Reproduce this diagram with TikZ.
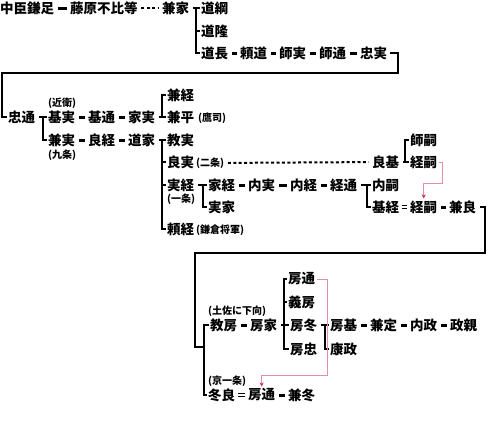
\documentclass[tikz,border=0pt]{standalone}
\usepackage{fontspec}
\usepackage{tikz}
\usetikzlibrary{arrows.meta}
\newfontfamily\jpfont{Noto Sans CJK JP}
\definecolor{kpink}{RGB}{228,140,175}
\definecolor{kpinkdark}{RGB}{200,40,100}

\begin{document}
\begin{tikzpicture}[x=1pt,y=-1pt,
          person/.style={inner sep=0pt,anchor=west,font=\jpfont\bfseries\fontsize{13.5}{15}\selectfont},
          remark/.style={inner sep=0pt,anchor=west,font=\jpfont\bfseries\fontsize{10}{12}\selectfont},
          lineage/.style={line width=3pt,shorten <=3.5pt,shorten >=3.5pt},
          branch/.style={line width=2.7pt,shorten <=1pt,shorten >=1pt},
          stub/.style={line width=2.7pt,shorten <=3.5pt},
          wrapline/.style={line width=2.3pt,shorten >=1pt},
          adopt/.style={double,double distance=2pt,line width=1pt,shorten <=3pt,shorten >=3pt},
          gap/.style={line width=2pt,dash pattern=on 3pt off 2.4pt,shorten <=3.5pt,shorten >=3.5pt},
          pinkarrow/.style={draw=kpink,line width=0.7pt,shorten <=1.5pt,shorten >=2pt,
                            -{Stealth[length=4pt,width=4pt,color=kpinkdark]}}]
        \useasboundingbox (0,0) rectangle (490,431);
        % --- 鎌足から忠実まで
        \node[person](kamatari)   at (0,8)   {中臣鎌足};
        \node[person](fuhito)     at (70,8)  {藤原不比等};
        \node[person](kaneie)     at (162,8) {兼家};
        \node[person](michitsuna) at (201,8) {道綱};
        \node[person](michitaka)  at (201,31){道隆};
        \node[person](michinaga)  at (201,53){道長};
        \node[person](yorimichi)  at (240,53){頼道};
        \node[person](morozane)   at (279,53){師実};
        \node[person](moromichi)  at (319,53){師通};
        \node[person](tadazane)   at (360,53){忠実};
        \coordinate (jKaneie) at (196,8);
        \draw[lineage](kamatari)--(fuhito);
        \draw[gap](fuhito)--(kaneie);
        \draw[stub](kaneie)--(jKaneie);
        \draw[branch](michitsuna)-|(jKaneie)|-(michinaga);
        \draw[branch](jKaneie|-michitaka)--(michitaka);
        \draw[lineage](michinaga)--(yorimichi);
        \draw[lineage](yorimichi)--(morozane);
        \draw[lineage](morozane)--(moromichi);
        \draw[lineage](moromichi)--(tadazane);
        % --- 忠通の子ら
        \node[person](tadamichi)  at (8,117)  {忠通};
        \node[person](motozane)   at (48,117) {基実};
        \node[remark](konoe)      at (48,103) {(近衛)};
        \node[person](mototsugu)  at (88,117) {基通};
        \node[person](iezane)     at (128,117){家実};
        \node[person](kanetsune)  at (167,95) {兼経};
        \node[person](kanehira)   at (167,117){兼平};
        \node[remark](takatsukasa)at (198,118){(鷹司)};
        \node[person](kanezane)   at (48,140) {兼実};
        \node[remark](kujo)       at (48,155) {(九条)};
        \node[person](yoshitsune) at (88,140) {良経};
        \node[person](michiie)    at (128,140){道家};
        \coordinate (turn1) at (398,73);
        \coordinate (turn2) at (2,73);
        \coordinate (jTadamichi) at (43,117);
        \coordinate (jIezane) at (162,117);
        \draw[wrapline,shorten <=3pt](tadazane)-|(turn1)--(turn2)|-(tadamichi);
        \draw[stub](tadamichi)--(jTadamichi);
        \draw[branch](motozane)-|(jTadamichi)|-(kanezane);
        \draw[lineage](motozane)--(mototsugu);
        \draw[lineage](mototsugu)--(iezane);
        \draw[stub](iezane)--(jIezane);
        \draw[branch](kanetsune)-|(jIezane)|-(kanehira);
        \draw[lineage](kanezane)--(yoshitsune);
        \draw[lineage](yoshitsune)--(michiie);
        % --- 道家の子ら
        \node[person](norizane)   at (167,140){教実};
        \node[person](yoshizane)  at (167,162){良実};
        \node[remark](nijo)       at (196,163){(二条)};
        \node[person](yoshimoto)  at (372,162){良基};
        \node[person](morotsugu)  at (410,140){師嗣};
        \node[person](tsunetsuguA)at (410,162){経嗣};
        \node[person](sanetsune)  at (167,185){実経};
        \node[remark](ichijo)     at (167,199){(一条)};
        \node[person](ietsune)    at (208,185){家経};
        \node[person](uchizane)   at (248,185){内実};
        \node[person](uchitsune)  at (290,185){内経};
        \node[person](tsunemichi) at (330,185){経通};
        \node[person](uchitsugu)  at (372,185){内嗣};
        \node[person](saneie)     at (208,207){実家};
        \node[person](mototsune)  at (372,207){基経};
        \node[person](tsunetsuguB)at (410,207){経嗣};
        \node[person](kanera)     at (449,207){兼良};
        \node[person](yoritsune)  at (167,229){頼経};
        \node[remark](shogun)     at (196,230){(鎌倉将軍)};
        \coordinate (jMichiie) at (162,140);
        \coordinate (jYoshimoto) at (405,162);
        \coordinate (jSanetsune) at (203,185);
        \coordinate (jTsunemichi) at (367,185);
        \coordinate (p1a) at (442,183);
        \draw[stub](michiie)--(jMichiie);
        \draw[branch](norizane)-|(jMichiie)|-(yoritsune);
        \draw[branch](jMichiie|-yoshizane)--(yoshizane);
        \draw[branch](jMichiie|-sanetsune)--(sanetsune);
        \draw[gap](nijo)--(yoshimoto);
        \draw[stub](yoshimoto)--(jYoshimoto);
        \draw[branch](morotsugu)-|(jYoshimoto)|-(tsunetsuguA);
        \draw[stub](sanetsune)--(jSanetsune);
        \draw[branch](ietsune)-|(jSanetsune)|-(saneie);
        \draw[lineage](ietsune)--(uchizane);
        \draw[lineage](uchizane)--(uchitsune);
        \draw[lineage](uchitsune)--(tsunemichi);
        \draw[stub](tsunemichi)--(jTsunemichi);
        \draw[branch](uchitsugu)-|(jTsunemichi)|-(mototsune);
        \draw[adopt](mototsune)--(tsunetsuguB);
        \draw[lineage](tsunetsuguB)--(kanera);
        \draw[pinkarrow](tsunetsuguA)-|(p1a)-|(tsunetsuguB);
        % --- 土佐一条家と京一条家
        \node[person](fusamichiA) at (288,279){房通};
        \node[person](yoshifusa)  at (288,302){義房};
        \node[person](norifusa)   at (210,325){教房};
        \node[remark](tosa)       at (208,311){(土佐に下向)};
        \node[person](fusaie)     at (250,325){房家};
        \node[person](fusafuyu)   at (290,325){房冬};
        \node[person](fusamoto)   at (330,325){房基};
        \node[person](kanesada)   at (370,325){兼定};
        \node[person](uchimasa)   at (410,325){内政};
        \node[person](masachika)  at (450,325){政親};
        \node[person](fusatada)   at (290,349){房忠};
        \node[person](yasumasa)   at (330,349){康政};
        \node[remark](kyoichijo)  at (208,381){(京一条)};
        \node[person](fuyura)     at (208,395){冬良};
        \node[person](fusamichiB) at (248,395){房通};
        \node[person](kanefuyu)   at (288,395){兼冬};
        \coordinate (turn3) at (485,253);
        \coordinate (turn4) at (195,253);
        \coordinate (jWrap) at (204,347);
        \coordinate (jNorifusa) at (204,325);
        \coordinate (jFusaie) at (284,325);
        \coordinate (jFusafuyu) at (325,325);
        \coordinate (p2a) at (327,375);
        \draw[wrapline,shorten <=4pt](kanera)-|(turn3)--(turn4)|-(jWrap);
        \draw[branch](norifusa)-|(jNorifusa)|-(fuyura);
        \draw[lineage](norifusa)--(fusaie);
        \draw[stub](fusaie)--(jFusaie);
        \draw[branch](fusamichiA)-|(jFusaie)|-(fusatada);
        \draw[branch](jFusaie|-yoshifusa)--(yoshifusa);
        \draw[branch](jFusaie|-fusafuyu)--(fusafuyu);
        \draw[stub](fusafuyu)--(jFusafuyu);
        \draw[branch](fusamoto)-|(jFusafuyu)|-(yasumasa);
        \draw[lineage](fusamoto)--(kanesada);
        \draw[lineage](kanesada)--(uchimasa);
        \draw[lineage](uchimasa)--(masachika);
        \draw[adopt](fuyura)--(fusamichiB);
        \draw[lineage](fusamichiB)--(kanefuyu);
        \draw[pinkarrow](fusamichiA)-|(p2a)-|(fusamichiB);
      \end{tikzpicture}
\end{document}
